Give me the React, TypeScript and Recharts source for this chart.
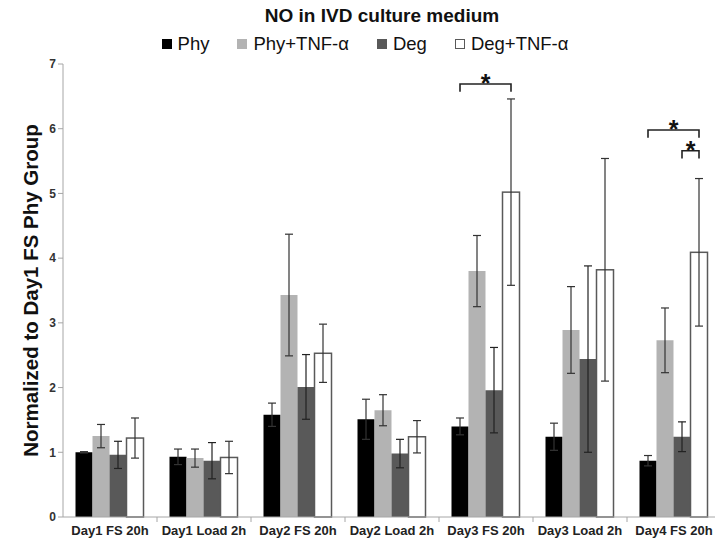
import { BarChart, Bar, XAxis, YAxis, ErrorBar, Legend } from "recharts";

const categories = [
  "Day1 FS 20h",
  "Day1 Load 2h",
  "Day2 FS 20h",
  "Day2 Load 2h",
  "Day3 FS 20h",
  "Day3 Load 2h",
  "Day4 FS 20h",
];

const seriesNames = ["Phy", "Phy+TNF-α", "Deg", "Deg+TNF-α"];

const phy = [1.0, 0.93, 1.58, 1.51, 1.4, 1.24, 0.87];
const phyErr = [0.01, 0.12, 0.18, 0.31, 0.13, 0.21, 0.08];
const phyTnf = [1.25, 0.91, 3.43, 1.65, 3.8, 2.89, 2.73];
const phyTnfErr = [0.18, 0.14, 0.94, 0.24, 0.55, 0.67, 0.5];
const deg = [0.96, 0.87, 2.01, 0.98, 1.96, 2.44, 1.24];
const degErr = [0.21, 0.28, 0.5, 0.22, 0.66, 1.44, 0.23];
const degTnf = [1.22, 0.92, 2.53, 1.24, 5.02, 3.82, 4.09];
const degTnfErr = [0.31, 0.25, 0.45, 0.25, 1.44, 1.72, 1.14];

const yTicks = [0, 1, 2, 3, 4, 5, 6, 7];

// significance brackets: series index 0..3 inside the group, level in y units
const brackets = [
  { category: "Day3 FS 20h", from: 0, to: 3, level: 6.69 },
  { category: "Day4 FS 20h", from: 0, to: 3, level: 5.98 },
  { category: "Day4 FS 20h", from: 2, to: 3, level: 5.66 },
];

const data = categories.map((name, i) => ({
  name,
  phy: phy[i],
  phyErr: phyErr[i],
  phyTnf: phyTnf[i],
  phyTnfErr: phyTnfErr[i],
  deg: deg[i],
  degErr: degErr[i],
  degTnf: degTnf[i],
  degTnfErr: degTnfErr[i],
}));

const FONT = "'Liberation Sans', Arial, sans-serif";

function DegTnfShape(props: any) {
  const { x, y, width, height, payload } = props;
  const perUnit = payload.degTnf ? height / payload.degTnf : 0;
  const base = y + height;
  const marks = brackets.filter((b) => b.category === payload.name);
  return (
    <g>
      <rect x={x} y={y} width={width} height={height} fill="#fff" stroke="#595959" strokeWidth={1.5} />
      {marks.map((b, i) => {
        const x1 = x - (3 - b.from) * width + width / 2;
        const x2 = x - (3 - b.to) * width + width / 2;
        const yy = base - b.level * perUnit;
        const leg = 0.12 * perUnit;
        return (
          <g key={i}>
            <path
              d={`M${x1},${yy + leg}V${yy}H${x2}V${yy + leg}`}
              stroke="#222"
              strokeWidth={1.6}
              fill="none"
            />
            <text
              x={(x1 + x2) / 2}
              y={yy + 8}
              textAnchor="middle"
              fontSize={25}
              fontWeight="bold"
              fontFamily={FONT}
              fill="#111"
            >
              *
            </text>
          </g>
        );
      })}
    </g>
  );
}

function CategoryTick(props: any) {
  const { x, y, payload, index } = props;
  const half = payload.offset ?? 47;
  return (
    <g>
      {index < categories.length - 1 && (
        <line x1={x + half} x2={x + half} y1={y} y2={y + 5} stroke="#a6a6a6" />
      )}
      <text
        x={x}
        y={y + 18}
        textAnchor="middle"
        fontSize={13}
        fontWeight="bold"
        fontFamily={FONT}
        fill="#222"
      >
        {payload.value}
      </text>
    </g>
  );
}

function LegendContent(props: any) {
  const items = [...(props.payload || [])].sort(
    (a: any, b: any) => seriesNames.indexOf(a.value) - seriesNames.indexOf(b.value)
  );
  return (
    <div style={{ display: "flex", justifyContent: "center", gap: 28, fontFamily: FONT, fontSize: 18.5, color: "#111" }}>
      {items.map((item: any) => (
        <div key={item.value} style={{ display: "flex", alignItems: "center" }}>
          <span
            style={{
              display: "inline-block",
              width: 8,
              height: 8,
              marginRight: 6,
              background: item.payload?.fill ?? item.color,
              border: item.value === "Deg+TNF-α" ? "1px solid #595959" : "1px solid transparent",
            }}
          />
          <span>{item.value}</span>
        </div>
      ))}
    </div>
  );
}

export default function App() {
  return (
    <div style={{ position: "fixed", top: 0, left: 0, width: 715, height: 542, overflow: "hidden", background: "#fff" }}>
      <div
        style={{
          position: "absolute",
          top: 5,
          left: 0,
          width: 764,
          textAlign: "center",
          fontFamily: FONT,
          fontWeight: "bold",
          fontSize: 19,
          color: "#111",
        }}
      >
        NO in IVD culture medium
      </div>
      <BarChart
        width={721}
        height={542}
        data={data}
        margin={{ top: 64, right: 0, bottom: 0, left: 0 }}
        barCategoryGap="13.3%"
        barGap={0}
      >
        <XAxis
          dataKey="name"
          height={25}
          tickLine={false}
          tickSize={0}
          tickMargin={0}
          interval={0}
          axisLine={{ stroke: "#a6a6a6" }}
          tick={<CategoryTick />}
        />
        <YAxis
          width={63}
          domain={[0, 7]}
          ticks={yTicks}
          tickSize={5}
          axisLine={{ stroke: "#a6a6a6" }}
          tickLine={{ stroke: "#a6a6a6" }}
          tick={{ fill: "#333", fontSize: 12, fontWeight: "bold", fontFamily: FONT }}
          label={{
            value: "Normalized to Day1 FS Phy Group",
            angle: -90,
            position: "center",
            dx: -1,
            style: { fontFamily: FONT, fontWeight: "bold", fontSize: 20.5, fill: "#111", textAnchor: "middle" },
          }}
        />
        <Legend
          verticalAlign="middle"
          align="center"
          layout="horizontal"
          wrapperStyle={{ top: 33, left: 0, width: 730 }}
          content={<LegendContent />}
        />
        <Bar dataKey="phy" name="Phy" fill="#000000" isAnimationActive={false}>
          <ErrorBar dataKey="phyErr" width={4} stroke="#333" strokeWidth={1.2} direction="y" />
        </Bar>
        <Bar dataKey="phyTnf" name="Phy+TNF-α" fill="#b3b3b3" isAnimationActive={false}>
          <ErrorBar dataKey="phyTnfErr" width={4} stroke="#333" strokeWidth={1.2} direction="y" />
        </Bar>
        <Bar dataKey="deg" name="Deg" fill="#595959" isAnimationActive={false}>
          <ErrorBar dataKey="degErr" width={4} stroke="#222" strokeWidth={1.2} direction="y" />
        </Bar>
        <Bar dataKey="degTnf" name="Deg+TNF-α" fill="#ffffff" isAnimationActive={false} shape={<DegTnfShape />}>
          <ErrorBar dataKey="degTnfErr" width={4} stroke="#333" strokeWidth={1.2} direction="y" />
        </Bar>
      </BarChart>
    </div>
  );
}
